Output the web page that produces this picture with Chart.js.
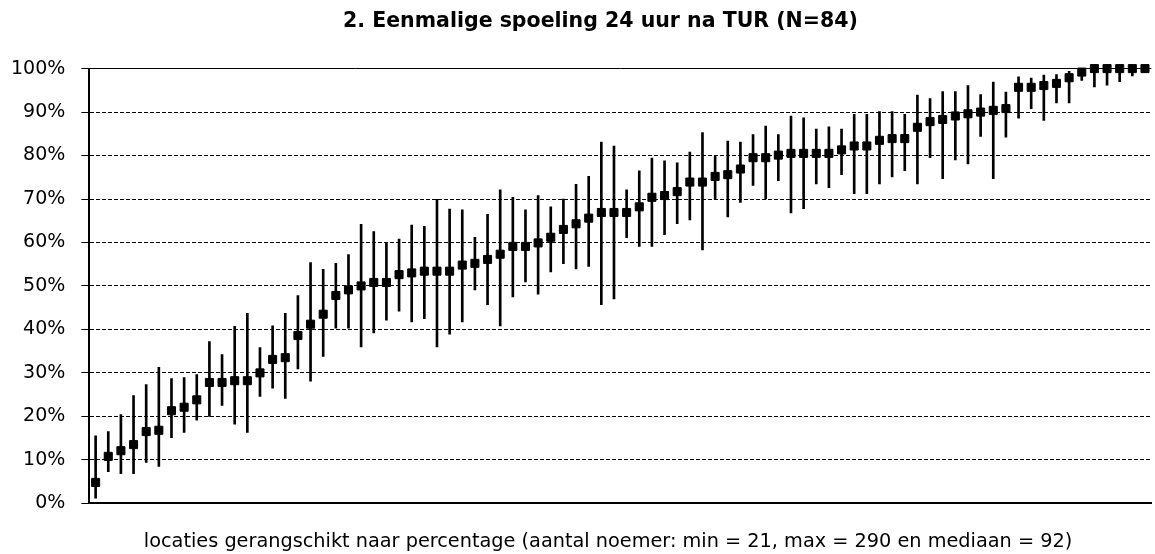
<!DOCTYPE html>
<html>
<head>
<meta charset="utf-8">
<title>Eenmalige spoeling 24 uur na TUR</title>
<script src="https://cdn.jsdelivr.net/npm/chart.js@4/dist/chart.umd.min.js"></script>
<style>
  html, body { margin: 0; padding: 0; background: #fff; overflow: hidden; }
  #wrap { width: 1158px; height: 554px; }
</style>
</head>
<body>
<div id="wrap"><canvas id="spoelingChart"></canvas></div>
<script>
// percentage per locatie, gesorteerd (punt) + ondergrens / bovengrens van het interval
const percentage = [
  4.8, 10.8, 12.1, 13.5, 16.5, 16.8, 21.3, 22.1, 23.8, 27.8,
  27.8, 28.2, 28.2, 30.0, 33.1, 33.5, 38.6, 41.2, 43.5, 47.8,
  49.1, 50.0, 50.8, 50.8, 52.6, 53.0, 53.4, 53.4, 53.4, 54.8,
  55.2, 56.1, 57.3, 59.1, 59.1, 59.9, 61.2, 63.0, 64.3, 65.6,
  66.9, 66.9, 66.9, 68.2, 70.4, 70.8, 71.7, 73.9, 73.9, 75.2,
  75.6, 76.9, 79.5, 79.5, 80.1, 80.5, 80.5, 80.5, 80.5, 81.3,
  82.2, 82.2, 83.5, 83.9, 83.9, 86.5, 87.8, 88.3, 89.1, 89.6,
  90.0, 90.4, 90.8, 95.7, 95.7, 96.1, 96.6, 97.9, 99.2, 100,
  100, 100, 100, 100
];
const ondergrens = [
  1.2, 7.3, 6.8, 6.8, 9.4, 8.5, 15.1, 16.3, 19.1, 20.0,
  22.5, 18.2, 16.3, 24.6, 26.5, 24.1, 30.9, 28.1, 33.8, 40.3,
  40.3, 36.0, 39.2, 42.1, 44.2, 41.7, 42.5, 36.0, 38.9, 41.7,
  49.1, 45.7, 40.8, 47.5, 50.9, 48.1, 53.2, 55.1, 53.9, 54.5,
  45.7, 47.0, 61.1, 59.1, 59.1, 61.8, 64.3, 65.2, 58.3, 70.0,
  65.9, 69.2, 73.1, 70.0, 74.2, 66.8, 67.8, 73.5, 72.6, 75.6,
  71.2, 71.2, 73.5, 75.1, 76.5, 73.5, 79.5, 74.7, 79.0, 78.1,
  84.4, 74.7, 84.2, 88.6, 90.8, 88.1, 92.1, 92.1, 97.3, 95.8,
  96.2, 97.0, 98.3, 99.2
];
const bovengrens = [
  15.5, 16.5, 20.4, 24.8, 27.3, 31.3, 28.7, 28.9, 29.6, 37.2,
  34.2, 40.7, 43.7, 35.8, 40.8, 43.7, 47.8, 55.4, 53.8, 55.2,
  57.2, 64.2, 62.5, 59.8, 60.8, 64.0, 63.7, 69.9, 67.7, 67.5,
  61.2, 66.5, 72.1, 70.4, 67.5, 70.8, 68.2, 70.0, 73.4, 75.2,
  83.1, 82.2, 72.1, 76.5, 79.4, 78.8, 78.3, 80.8, 85.3, 79.9,
  83.3, 83.1, 84.8, 86.8, 84.8, 89.1, 88.7, 86.1, 86.6, 86.1,
  89.5, 89.5, 90.1, 90.1, 89.5, 93.9, 93.1, 94.7, 94.7, 96.1,
  94.0, 96.9, 94.6, 98.1, 97.8, 98.5, 98.6, 99.4, 99.6, 100,
  100, 100, 100, 100
];
const yTicks = [0, 10, 20, 30, 40, 50, 60, 70, 80, 90, 100];

// nbsp's schuiven de gecentreerde teksten iets op zoals in het origineel
const titel = '\u00a0\u00a0\u00a0\u00a0\u00a0\u00a02. Eenmalige spoeling 24 uur na TUR (N=84)';
const asTitel = 'locaties gerangschikt naar percentage (aantal noemer: min = 21, max = 290 en mediaan = 92)\u00a0\u00a0\u00a0\u00a0';

const locaties = percentage.map((_, i) => String(i + 1));
const intervallen = ondergrens.map((lo, i) => [lo, bovengrens[i]]);

const ctx = document.getElementById('spoelingChart').getContext('2d');
const spoelingChart = new Chart(ctx, {
    type: 'bar',
    data: {
        labels: locaties,
        datasets: [{
            type: 'line',
            label: 'percentage',
            data: percentage,
            showLine: false,
            pointStyle: 'rect',
            pointRadius: 5.7,
            pointBorderWidth: 1,
            pointBackgroundColor: '#000',
            pointBorderColor: '#000',
            clip: false,
            order: 0
        }, {
            label: 'interval',
            data: intervallen,
            backgroundColor: '#000',
            borderWidth: 0,
            barThickness: 2,
            order: 1
        }]
    },
    options: {
        responsive: true,
        maintainAspectRatio: false,
        animation: false,
        layout: {
            padding: 0
        },
        plugins: {
            legend: { display: false },
            tooltip: { enabled: false },
            title: {
                display: true,
                text: titel,
                color: '#000',
                font: { family: 'DejaVu Sans', size: 20.5, weight: 'bold', lineHeight: 1.2 },
                padding: { top: 9, bottom: 35 }
            }
        },
        scales: {
            x: {
                offset: true,
                grid: { display: false },
                ticks: { display: false },
                border: { display: true, color: '#000', width: 2 },
                title: {
                    display: true,
                    text: asTitel,
                    color: '#000',
                    font: { family: 'DejaVu Sans', size: 19.3, lineHeight: 1.2 },
                    padding: { top: 0, bottom: 0 }
                },
                afterFit: s => { s.height = 50.7; }
            },
            y: {
                min: 0,
                max: 100,
                afterBuildTicks: s => { s.ticks = yTicks.map(v => ({ value: v })); },
                ticks: {
                    color: '#000',
                    padding: 16,
                    font: { family: 'DejaVu Sans', size: 19 },
                    callback: v => v + '%'
                },
                grid: {
                    color: '#000',
                    lineWidth: 1,
                    drawTicks: true,
                    tickLength: 8,
                    tickColor: '#000',
                    tickWidth: 1
                },
                border: {
                    display: true,
                    color: '#000',
                    width: 2,
                    dash: c => (c.tick && c.tick.value === 100) ? [] : [4, 2]
                },
                afterFit: s => { s.width = 89.3; }
            }
        }
    }
});
</script>
</body>
</html>
